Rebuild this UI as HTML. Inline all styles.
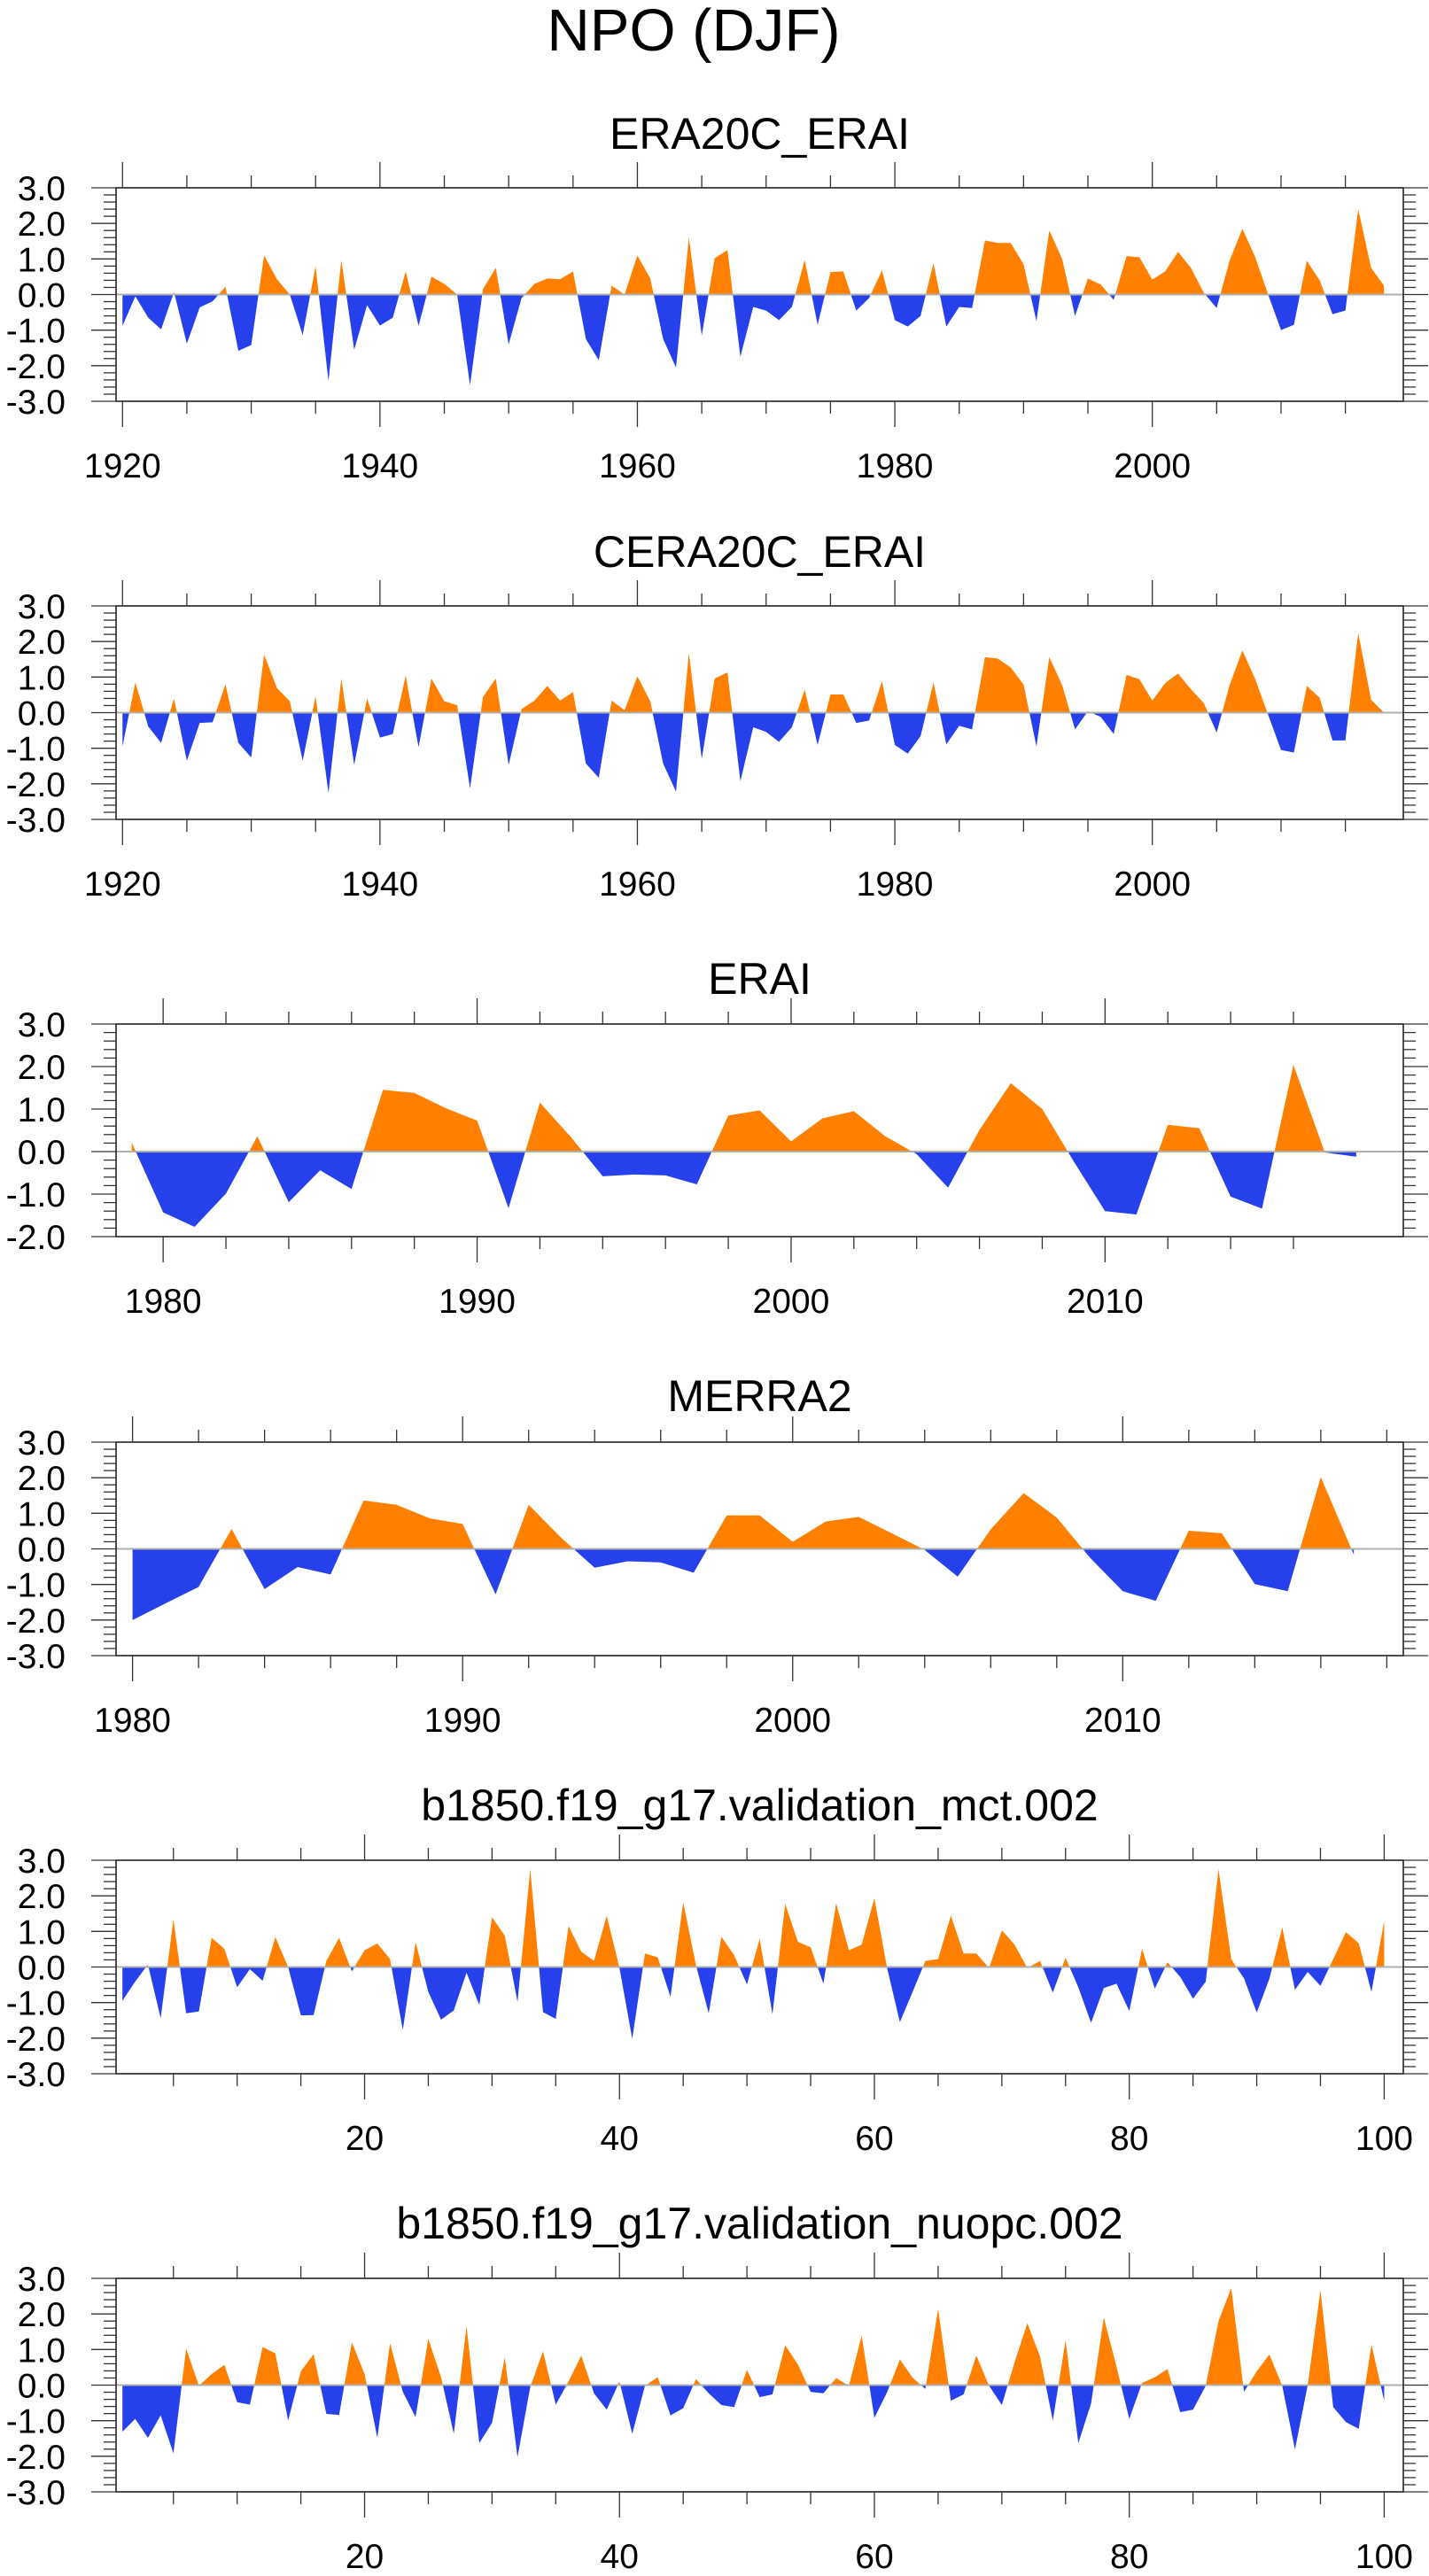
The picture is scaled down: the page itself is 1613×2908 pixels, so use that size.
<!DOCTYPE html>
<html><head><meta charset="utf-8"><title>NPO (DJF)</title>
<style>
html,body{margin:0;padding:0;background:#fff;}
svg{display:block;font-family:"Liberation Sans",sans-serif;}
</style></head>
<body>
<svg id="fig" width="1613" height="2908" viewBox="0 0 1613 2908" xmlns="http://www.w3.org/2000/svg">
<text x="783" y="57" font-size="67" text-anchor="middle" fill="#000">NPO (DJF)</text>
</svg>
<script>
// ---- data ----
const era20cYears = [1920,2018];
const era20cValues = [-0.88,-0.05,-0.65,-0.98,0.07,-1.38,-0.36,-0.19,0.22,-1.58,-1.42,1.10,0.43,0.0,-1.14,0.80,-2.43,0.97,-1.55,-0.30,-0.87,-0.65,0.65,-0.88,0.50,0.30,0.0,-2.55,0.15,0.75,-1.40,-0.10,0.30,0.45,0.43,0.65,-1.25,-1.85,0.25,0.0,1.10,0.45,-1.25,-2.05,1.60,-1.15,1.02,1.25,-1.75,-0.35,-0.45,-0.72,-0.35,0.97,-0.85,0.63,0.65,-0.45,-0.10,0.68,-0.72,-0.90,-0.60,0.88,-0.90,-0.35,-0.38,1.52,1.45,1.45,0.85,-0.75,1.80,1.00,-0.60,0.45,0.28,-0.15,1.08,1.05,0.42,0.65,1.20,0.75,0.05,-0.38,0.95,1.85,1.05,0.0,-1.00,-0.85,0.95,0.40,-0.55,-0.45,2.40,0.75,0.25];
const ceraValues = [-0.95,0.85,-0.39,-0.85,0.40,-1.35,-0.29,-0.27,0.80,-0.85,-1.26,1.63,0.69,0.32,-1.35,0.46,-2.26,0.96,-1.47,0.40,-0.70,-0.60,1.04,-0.97,0.96,0.32,0.21,-2.13,0.44,0.96,-1.47,0.10,0.34,0.75,0.34,0.58,-1.43,-1.83,0.34,0.07,1.02,0.32,-1.43,-2.22,1.68,-1.30,0.96,1.13,-1.93,-0.41,-0.54,-0.82,-0.41,0.65,-0.91,0.51,0.51,-0.29,-0.22,0.88,-0.91,-1.15,-0.66,0.85,-0.89,-0.37,-0.47,1.56,1.52,1.27,0.79,-0.95,1.56,0.77,-0.47,0.04,-0.12,-0.60,1.06,0.94,0.34,0.83,1.10,0.66,0.27,-0.56,0.77,1.75,0.94,-0.06,-1.05,-1.12,0.75,0.42,-0.78,-0.78,2.24,0.36,0.0];
const eraiStart = 1979;
const eraiValues = [0.21,-1.43,-1.77,-0.99,0.36,-1.19,-0.44,-0.88,1.45,1.38,1.02,0.73,-1.33,1.15,0.33,-0.58,-0.54,-0.56,-0.77,0.85,0.97,0.24,0.78,0.95,0.36,-0.06,-0.85,0.51,1.61,1.00,-0.23,-1.40,-1.48,0.63,0.55,-1.06,-1.34,2.04,-0.02,-0.12];
const merraStart = 1980;
const merraValues = [-2.00,-1.53,-1.07,0.56,-1.13,-0.51,-0.72,1.36,1.24,0.86,0.70,-1.28,1.24,0.30,-0.53,-0.35,-0.38,-0.67,0.94,0.94,0.20,0.77,0.90,0.44,-0.03,-0.78,0.55,1.57,0.88,-0.24,-1.19,-1.46,0.51,0.44,-0.99,-1.19,2.02,-0.16];
const mctValues = [-0.95,-0.41,0.07,-1.44,1.34,-1.30,-1.25,0.82,0.51,-0.57,-0.06,-0.39,0.84,0.0,-1.36,-1.35,0.17,0.82,-0.12,0.47,0.66,0.22,-1.77,0.70,-0.70,-1.48,-1.22,-0.16,-1.07,1.40,0.88,-0.98,2.75,-1.27,-1.46,1.15,0.43,0.17,1.44,-0.03,-2.02,0.38,0.27,-0.84,1.82,0.05,-1.30,0.85,0.33,-0.49,0.79,-1.33,1.77,0.71,0.55,-0.47,1.79,0.47,0.63,1.93,-0.03,-1.55,-0.70,0.17,0.22,1.44,0.38,0.38,-0.03,1.03,0.63,-0.03,0.17,-0.72,0.26,-0.57,-1.57,-0.59,-0.47,-1.24,0.51,-0.61,0.13,-0.28,-0.89,-0.41,2.75,0.22,-0.32,-1.28,-0.32,1.11,-0.64,-0.14,-0.53,0.22,0.98,0.67,-0.70,1.29];
const nuopcValues = [-1.31,-0.95,-1.48,-0.85,-1.92,1.03,-0.02,0.31,0.57,-0.48,-0.55,1.07,0.89,-1.00,0.39,0.87,-0.81,-0.84,1.20,0.31,-1.48,1.18,-0.19,-0.90,1.30,0.22,-1.37,1.66,-1.63,-1.06,0.78,-2.02,-0.05,0.95,-0.55,0.10,0.83,-0.23,-0.69,0.10,-1.37,-0.02,0.22,-0.85,-0.65,0.17,-0.23,-0.56,-0.62,0.43,-0.34,-0.26,1.12,0.58,-0.19,-0.23,0.20,-0.02,1.39,-0.92,-0.20,0.72,0.21,-0.11,2.14,-0.44,-0.26,0.83,-0.02,-0.56,0.64,1.74,0.80,-1.00,1.26,-1.63,-0.52,1.90,0.51,-0.95,0.06,0.22,0.45,-0.76,-0.69,-0.02,1.80,2.73,-0.19,0.39,0.86,-0.02,-1.81,0.0,2.67,-0.62,-1.04,-1.23,1.14,-0.44];
const yTicksA = [-3,-2,-1,0,1,2,3];
const yTicksB = [-2,-1,0,1,2,3];
const yearTicks20 = [1920,1940,1960,1980,2000];
const yearTicks10 = [1980,1990,2000,2010];
const idxTicks = [20,40,60,80,100];

// ---- layout ----
const NS = "http://www.w3.org/2000/svg";
const svg = document.getElementById('fig');
const L = 131, R = 1584;
function mk(tag, attrs, parent){
  const e = document.createElementNS(NS, tag);
  for (const k in attrs) e.setAttribute(k, attrs[k]);
  (parent||svg).appendChild(e);
  return e;
}
function seq(a, b){ const r=[]; for(let i=a;i<=b;i++) r.push(i); return r; }

const panels = [
  {name:'era20c-erai', title:'ERA20C_ERAI', tb:168, top:212, bot:453, xd:[1919.5,2019.5], yd:[-3,3], xs:seq(1920,2018), ys:era20cValues, major:yearTicks20, minorStep:5, minorMax:2015, yt:yTicksA},
  {name:'cera20c-erai', title:'CERA20C_ERAI', tb:640, top:684, bot:925, xd:[1919.5,2019.5], yd:[-3,3], xs:seq(1920,2018), ys:ceraValues, major:yearTicks20, minorStep:5, minorMax:2015, yt:yTicksA},
  {name:'erai', title:'ERAI', tb:1122, top:1156, bot:1396, xd:[1978.5,2019.5], yd:[-2,3], xs:seq(eraiStart,eraiStart+eraiValues.length-1), ys:eraiValues, major:yearTicks10, minorStep:2, minorMax:2016, yt:yTicksB},
  {name:'merra2', title:'MERRA2', tb:1593, top:1628, bot:1869, xd:[1979.5,2018.5], yd:[-3,3], xs:seq(merraStart,merraStart+merraValues.length-1), ys:merraValues, major:yearTicks10, minorStep:2, minorMax:2018, yt:yTicksA},
  {name:'mct', title:'b1850.f19_g17.validation_mct.002', tb:2055, top:2100, bot:2341, xd:[0.5,101.5], yd:[-3,3], xs:seq(1,100), ys:mctValues, major:idxTicks, minorStep:5, minorMax:100, yt:yTicksA},
  {name:'nuopc', title:'b1850.f19_g17.validation_nuopc.002', tb:2527, top:2572, bot:2813, xd:[0.5,101.5], yd:[-3,3], xs:seq(1,100), ys:nuopcValues, major:idxTicks, minorStep:5, minorMax:100, yt:yTicksA}
];

panels.forEach((p, pi) => {
  const g = mk('g', {});
  
  
  const sx = v => L + (v - p.xd[0]) / (p.xd[1] - p.xd[0]) * (R - L);
  const sy = v => p.bot - (v - p.yd[0]) / (p.yd[1] - p.yd[0]) * (p.bot - p.top);
  const t = mk('text', {x:(L+R)/2, y:p.tb, 'font-size':50, 'text-anchor':'middle', fill:'#000'}, g);
  
  
  t.textContent = p.title;

  const z = sy(0);
  let pts = p.xs.map((x,i)=> sx(x).toFixed(2)+','+sy(p.ys[i]).toFixed(2));
  const d = 'M'+sx(p.xs[0]).toFixed(2)+','+z+' L'+pts.join(' L')+' L'+sx(p.xs[p.xs.length-1]).toFixed(2)+','+z+' Z';
  const defs = mk('defs', {}, g);
  const cpA = mk('clipPath', {id:'cpa'+pi}, defs);
  mk('rect', {x:L, y:p.top, width:R-L, height:z-p.top}, cpA);
  const cpB = mk('clipPath', {id:'cpb'+pi}, defs);
  mk('rect', {x:L, y:z, width:R-L, height:p.bot-z}, cpB);
  const pos = mk('path', {d:d, fill:'#ff8000', 'clip-path':'url(#cpa'+pi+')'}, g);
  
  
  const neg = mk('path', {d:d, fill:'#2640ec', 'clip-path':'url(#cpb'+pi+')'}, g);
  
  
  const zl = mk('line', {x1:L, x2:R, y1:z, y2:z, stroke:'#b0b0b0', 'stroke-width':2}, g);
  
  

  // frame
  const fr = mk('rect', {x:L, y:p.top, width:R-L, height:p.bot-p.top, fill:'none', stroke:'#222', 'stroke-width':1.6}, g);
  
  

  // x ticks
  for (let v = Math.ceil(p.xd[0]/p.minorStep)*p.minorStep; v <= p.minorMax; v += p.minorStep) {
    const isMaj = p.major.indexOf(v) >= 0;
    const len = isMaj ? 29 : 14;
    const x = sx(v);
    mk('line', {x1:x, x2:x, y1:p.top, y2:p.top-len, stroke:'#333', 'stroke-width':1.3}, g);
    mk('line', {x1:x, x2:x, y1:p.bot, y2:p.bot+len, stroke:'#333', 'stroke-width':1.3}, g);
  }
  p.major.forEach(v => {
    const lt = mk('text', {x:sx(v), y:p.bot+86, 'font-size':39, 'text-anchor':'middle', fill:'#000'}, g);
    
    
    lt.textContent = String(v);
  });
  // y ticks
  for (let k = Math.round(p.yd[0]*5); k <= Math.round(p.yd[1]*5); k++) {
    const y = sy(k/5);
    const len = (k % 5 === 0) ? 28 : 14;
    mk('line', {x1:L, x2:L-len, y1:y, y2:y, stroke:'#333', 'stroke-width':1.3}, g);
    mk('line', {x1:R, x2:R+len, y1:y, y2:y, stroke:'#333', 'stroke-width':1.3}, g);
  }
  p.yt.forEach(v => {
    const lt = mk('text', {x:74, y:sy(v)+14, 'font-size':39, 'text-anchor':'end', fill:'#000'}, g);
    
    
    lt.textContent = v.toFixed(1);
  });
});
</script>
</body></html>
